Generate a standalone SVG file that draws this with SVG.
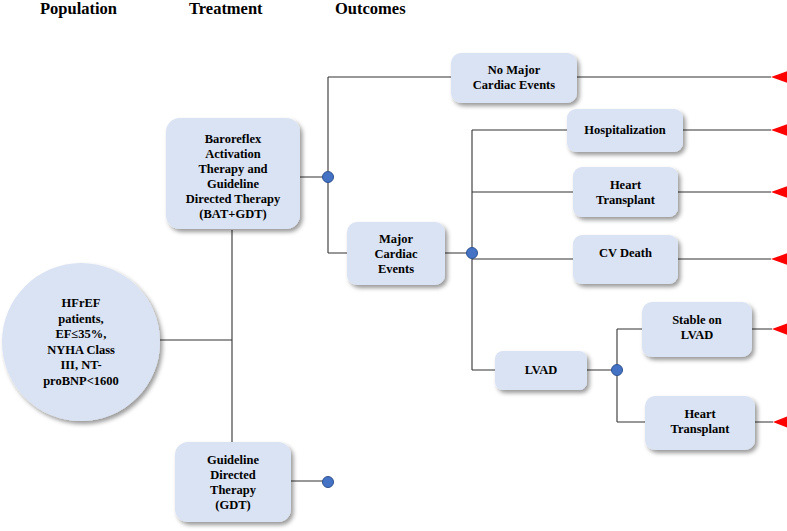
<svg xmlns="http://www.w3.org/2000/svg" width="787" height="531" viewBox="0 0 787 531">
<defs>
<filter id="sh" x="-20%" y="-20%" width="150%" height="150%">
<feDropShadow dx="2.5" dy="3" stdDeviation="2" flood-color="#000" flood-opacity="0.4"/>
</filter>
<style>
.hdr{font-family:"Liberation Serif","Times New Roman",serif;font-weight:bold;font-size:16.5px;fill:#000}
.t{font-family:"Liberation Serif","Times New Roman",serif;font-weight:bold;font-size:12.5px;fill:#000;text-anchor:middle}
.box{fill:#dae3f3;filter:url(#sh)}
.ln{stroke:#333;stroke-width:1.1;fill:none}
.dot{fill:#4472c4;stroke:#2f528f;stroke-width:1}
.term{fill:#ff0000}
</style>
</defs>
<rect width="787" height="531" fill="#fff"/>
<g id="headers">
<text class="hdr" x="40" y="14">Population</text>
<text class="hdr" x="189" y="14">Treatment</text>
<text class="hdr" x="335" y="14">Outcomes</text>
</g>
<g id="connectors">
<path class="ln" d="M160 340 H232 M232 230 V442"/>
<path class="ln" d="M300 177 H328 M291 481 H328"/>
<path class="ln" d="M328 77 V253 M328 77 H451 M328 253 H347 M577 77 H771"/>
<path class="ln" d="M445 253 H472 M472 130 V370 M472 130 H567 M683 130 H771 M472 192 H573 M678 192 H771 M472 259 H573 M678 259 H771 M472 370 H495"/>
<path class="ln" d="M587 370 H617 M617 329 V422 M617 329 H642 M752 329 H772 M617 422 H645 M755 422 H773"/>
</g>
<g id="population">
<circle cx="81" cy="342" r="79" class="box"/>
<text class="t" x="81" y="307">HFrEF</text>
<text class="t" x="81" y="322.5">patients,</text>
<text class="t" x="81" y="338">EF≤35%,</text>
<text class="t" x="81" y="353.5">NYHA Class</text>
<text class="t" x="81" y="369">III, NT-</text>
<text class="t" x="81" y="384.5">proBNP&lt;1600</text>
</g>
<g id="bat-gdt">
<rect x="166" y="118" width="134" height="111" rx="14" class="box"/>
<text class="t" x="233" y="143">Baroreflex</text>
<text class="t" x="233" y="158">Activation</text>
<text class="t" x="233" y="173">Therapy and</text>
<text class="t" x="233" y="188">Guideline</text>
<text class="t" x="233" y="203">Directed Therapy</text>
<text class="t" x="233" y="218">(BAT+GDT)</text>
</g>
<g id="gdt">
<rect x="175" y="442" width="116" height="80" rx="13" class="box"/>
<text class="t" x="233" y="464">Guideline</text>
<text class="t" x="233" y="479">Directed</text>
<text class="t" x="233" y="494">Therapy</text>
<text class="t" x="233" y="509">(GDT)</text>
</g>
<g id="no-major">
<rect x="451" y="53" width="126" height="50" rx="10" class="box"/>
<text class="t" x="514" y="74">No Major</text>
<text class="t" x="514" y="89">Cardiac Events</text>
</g>
<g id="major">
<rect x="347" y="222" width="98" height="63" rx="10" class="box"/>
<text class="t" x="396" y="243">Major</text>
<text class="t" x="396" y="258">Cardiac</text>
<text class="t" x="396" y="273">Events</text>
</g>
<g id="hospitalization">
<rect x="567" y="109" width="116" height="43" rx="9" class="box"/>
<text class="t" x="625" y="134">Hospitalization</text>
</g>
<g id="heart-transplant-1">
<rect x="573" y="167" width="105" height="50" rx="9" class="box"/>
<text class="t" x="625.5" y="189">Heart</text>
<text class="t" x="625.5" y="204">Transplant</text>
</g>
<g id="cv-death">
<rect x="573" y="235" width="105" height="49" rx="9" class="box"/>
<text class="t" x="625.5" y="257">CV Death</text>
</g>
<g id="lvad">
<rect x="495" y="351" width="92" height="39" rx="8" class="box"/>
<text class="t" x="541" y="374">LVAD</text>
</g>
<g id="stable-lvad">
<rect x="642" y="302" width="110" height="55" rx="10" class="box"/>
<text class="t" x="697" y="324">Stable on</text>
<text class="t" x="697" y="339">LVAD</text>
</g>
<g id="heart-transplant-2">
<rect x="645" y="396" width="110" height="54" rx="10" class="box"/>
<text class="t" x="700" y="418">Heart</text>
<text class="t" x="700" y="433">Transplant</text>
</g>
<g id="chance-nodes">
<circle class="dot" cx="328" cy="177" r="5.5"/>
<circle class="dot" cx="328" cy="482" r="5.5"/>
<circle class="dot" cx="472" cy="253" r="5.5"/>
<circle class="dot" cx="617" cy="370" r="5.5"/>
</g>
<g id="terminal-nodes">
<polygon class="term" points="771,77 788,71 788,83"/>
<polygon class="term" points="771,130 788,124 788,136"/>
<polygon class="term" points="771,192 788,186 788,198"/>
<polygon class="term" points="771,259 788,253 788,265"/>
<polygon class="term" points="772,329 788,323 788,335"/>
<polygon class="term" points="773,422 788,416 788,428"/>
</g>
</svg>
